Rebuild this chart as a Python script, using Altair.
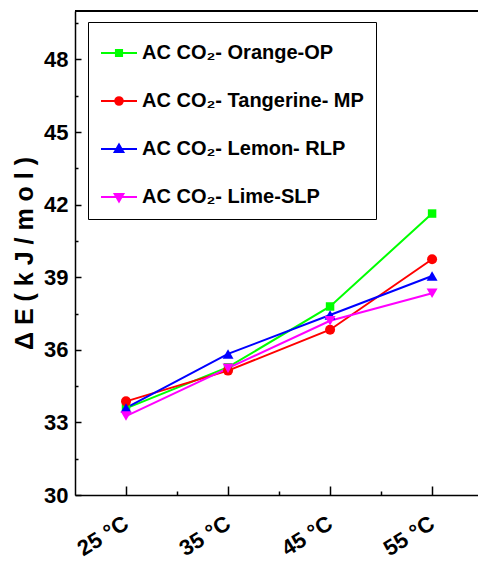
import altair as alt
import pandas as pd

temps = [25, 35, 45, 55]
series_names = ["AC CO₂- Orange-OP", "AC CO₂- Tangerine- MP", "AC CO₂- Lemon- RLP", "AC CO₂- Lime-SLP"]
orange = [33.58, 35.28, 37.79, 41.63]
tangerine = [33.87, 35.14, 36.83, 39.74]
lemon = [33.60, 35.83, 37.44, 39.05]
lime = [33.26, 35.24, 37.20, 38.34]
colors = ["#00ff00", "#ff0000", "#0000ff", "#ff00ff"]
shapes = ["square", "circle", "triangle-up", "triangle-down"]
point_sizes = [72, 100, 120, 120]
# legend symbols: short line with marker in the middle
legend_paths = [
    "M-1,0H1M-0.17,-0.17H0.17V0.17H-0.17Z",
    "M-1,0H1M-0.21,0A0.21,0.21 0 1,0 0.21,0A0.21,0.21 0 1,0 -0.21,0Z",
    "M-1,0H1M0,-0.25L0.24,0.17L-0.24,0.17Z",
    "M-1,0H1M0,0.25L0.24,-0.17L-0.24,-0.17Z",
]
y_major = [30, 33, 36, 39, 42, 45, 48]
y_minor = [31.5, 34.5, 37.5, 40.5, 43.5, 46.5, 49.5]
x_major = [25, 35, 45, 55]
x_minor = [30, 40, 50]

rows = []
for name, vals in zip(series_names, [orange, tangerine, lemon, lime]):
    for t, v in zip(temps, vals):
        rows.append({"temp": t, "E": v, "series": name})
df = pd.DataFrame(rows)

FONT = "Liberation Sans"
W, H = 403, 484

xs = alt.Scale(domain=[20, 59.5], nice=False, zero=False)
ys = alt.Scale(domain=[30, 50], nice=False, zero=False)
cs = alt.Scale(domain=series_names, range=colors)
ls = alt.Scale(domain=series_names, range=legend_paths)

base = alt.Chart(df)

x_main = alt.X("temp:Q", scale=xs, axis=alt.Axis(
    values=x_major, labelExpr="datum.value + ' °C'", labelAngle=328,
    labelAlign="right", labelBaseline="middle", labelPadding=26,
    ticks=False, grid=False, title=None, domainColor="black", domainWidth=1.5,
    labelFont=FONT, labelFontWeight="bold", labelFontSize=22, labelColor="black"))
y_main = alt.Y("E:Q", scale=ys, axis=alt.Axis(
    values=y_major, ticks=False, grid=False, labelPadding=7,
    domainColor="black", domainWidth=1.5,
    labelFont=FONT, labelFontWeight="bold", labelFontSize=22, labelColor="black",
    title="Δ E ( k J / m o l )", titleFont=FONT, titleFontWeight="bold",
    titleFontSize=25, titlePadding=6, titleColor="black"))
x_plain = alt.X("temp:Q", scale=xs, axis=None)
y_plain = alt.Y("E:Q", scale=ys, axis=None)

line_layers = []
point_layers = []
for i, (name, col, shp, sz) in enumerate(zip(series_names, colors, shapes, point_sizes)):
    sub = base.transform_filter(alt.datum.series == name)
    line_layers.append(
        sub.mark_line(strokeWidth=2, color=col).encode(
            x=x_main if i == 0 else x_plain,
            y=y_main if i == 0 else y_plain,
            order="temp:Q",
        )
    )
    point_layers.append(
        sub.mark_point(filled=True, opacity=1, size=sz, shape=shp, color=col).encode(
            x=x_plain, y=y_plain,
        )
    )

leg = alt.Legend(
    title=None, orient="none", legendX=13, legendY=11,
    symbolSize=1296, symbolStrokeWidth=2, symbolOpacity=1,
    labelFont=FONT, labelFontWeight="bold", labelFontSize=20, labelColor="black",
    labelLimit=0, labelOffset=4, rowPadding=19, padding=12,
    strokeColor="black", fillColor="white",
)
legend_layer = base.mark_point(filled=True, opacity=0).encode(
    x=x_plain, y=y_plain,
    fill=alt.Fill("series:N", scale=cs, legend=leg),
    stroke=alt.Stroke("series:N", scale=cs, legend=leg),
    shape=alt.Shape("series:N", scale=ls, legend=leg),
)

top_border = alt.Chart(df).mark_rule(color="black", strokeWidth=1.5).encode(
    y=alt.YDatum(50, axis=None)
)

def tick_layer(xv, yv, xsize, ysize):
    return base.mark_point(opacity=0).encode(
        x=alt.X("temp:Q", scale=xs, axis=alt.Axis(
            orient="top", offset=-H, values=xv, tickSize=xsize, tickWidth=1.5,
            tickColor="black", labels=False, domain=False, grid=False, title=None)),
        y=alt.Y("E:Q", scale=ys, axis=alt.Axis(
            orient="right", offset=-W, values=yv, tickSize=ysize, tickWidth=1.5,
            tickColor="black", labels=False, domain=False, grid=False, title=None)),
    )

chart = alt.layer(
    *line_layers, *point_layers, legend_layer, top_border,
    tick_layer(x_major, y_major, 9, 6),
    tick_layer(x_minor, y_minor, 4, 3),
).resolve_axis(x="independent", y="independent").properties(
    width=W, height=H, autosize="none",
    padding={"left": 75, "top": 11, "right": 0, "bottom": 67},
).configure_view(stroke=None).configure(background="white")

chart.save("out.html", embed_options={"renderer": "svg", "actions": False})
